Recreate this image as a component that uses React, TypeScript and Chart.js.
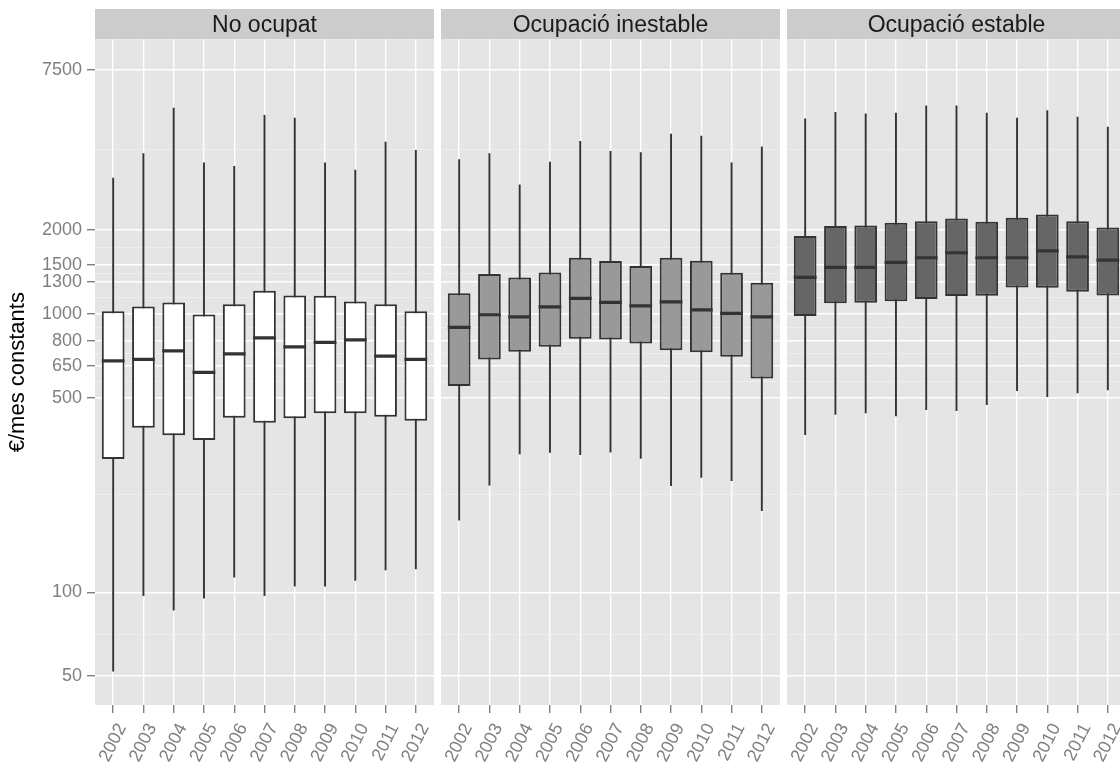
import React, { useEffect, useRef } from 'react';
import { Chart, registerables } from 'chart.js';

Chart.register(...registerables);

// ---------- data ----------
const YEARS = ['2002', '2003', '2004', '2005', '2006', '2007', '2008', '2009', '2010', '2011', '2012'];
const PANEL_TITLES = ['No ocupat', 'Ocupació inestable', 'Ocupació estable'];
const Y_BREAKS = [50, 100, 500, 650, 800, 1000, 1300, 1500, 2000, 7500];
const Y_MIN = 39.4;
const Y_MAX = 9670;
const Y_TITLE = '€/mes constants';

// No ocupat
const NO_OCUPAT_LOW = [52, 97, 86, 95, 113, 97, 105, 105, 110, 120, 121];
const NO_OCUPAT_Q1 = [301, 390, 366, 352, 423, 406, 422, 439, 439, 427, 413];
const NO_OCUPAT_MED = [678, 686, 736, 616, 718, 820, 761, 789, 806, 705, 686];
const NO_OCUPAT_Q3 = [1022, 1062, 1098, 995, 1081, 1209, 1164, 1160, 1108, 1081, 1022];
const NO_OCUPAT_HIGH = [3076, 3767, 5490, 3496, 3390, 5169, 5057, 3496, 3289, 4146, 3869];

// Ocupació inestable
const INESTABLE_LOW = [181, 242, 313, 317, 311, 318, 302, 241, 258, 251, 196];
const INESTABLE_Q1 = [550, 686, 730, 761, 813, 809, 783, 739, 727, 701, 586];
const INESTABLE_MED = [893, 992, 975, 1059, 1136, 1098, 1068, 1104, 1033, 1003, 975];
const INESTABLE_Q3 = [1184, 1388, 1351, 1407, 1589, 1546, 1484, 1589, 1550, 1403, 1292];
const INESTABLE_HIGH = [3584, 3767, 2914, 3514, 4169, 3838, 3798, 4431, 4357, 3496, 3990];

// Ocupació estable
const ESTABLE_LOW = [367, 434, 439, 429, 451, 448, 470, 528, 503, 518, 532];
const ESTABLE_Q1 = [981, 1092, 1095, 1110, 1129, 1158, 1160, 1243, 1240, 1199, 1164];
const ESTABLE_MED = [1351, 1467, 1467, 1529, 1589, 1656, 1589, 1589, 1683, 1602, 1559];
const ESTABLE_Q3 = [1901, 2064, 2073, 2122, 2151, 2199, 2142, 2212, 2274, 2151, 2042];
const ESTABLE_HIGH = [5028, 5300, 5240, 5270, 5600, 5600, 5270, 5057, 5375, 5100, 4694];

const PANEL_DATA = [
  { low: NO_OCUPAT_LOW, q1: NO_OCUPAT_Q1, med: NO_OCUPAT_MED, q3: NO_OCUPAT_Q3, high: NO_OCUPAT_HIGH },
  { low: INESTABLE_LOW, q1: INESTABLE_Q1, med: INESTABLE_MED, q3: INESTABLE_Q3, high: INESTABLE_HIGH },
  { low: ESTABLE_LOW, q1: ESTABLE_Q1, med: ESTABLE_MED, q3: ESTABLE_Q3, high: ESTABLE_HIGH },
];

// ---------- style / layout ----------
const FILLS = ['#FFFFFF', '#999999', '#666666'];
const LINE = '#333333';
const FONT = '"Liberation Sans", Arial, sans-serif';
const PANEL_LEFT = [95, 441, 787];
const PANEL_W = 339;
const STRIP_TOP = 9;
const STRIP_H = 30.3;
const STRIP_FONT = 23;
const STRIP_PAD = 3;
const X_AXIS_H = 57;
const Y_AXIS_W = 95;
const CANVAS_H = 762;
const SIDE_PAD = 8;

// minor gridlines halfway (in log space) between breaks
const Y_MINOR = Y_BREAKS.slice(1).map((b, i) => Math.sqrt(b * Y_BREAKS[i]));
const Y_ALL = [...Y_BREAKS, ...Y_MINOR].sort((a, b) => a - b);
const isMajor = (v: number) => Y_BREAKS.some((b) => Math.abs(b - v) < 1e-6);

const panelBg = {
  id: 'panelBg',
  beforeDraw(chart: any) {
    const { ctx, chartArea: a } = chart;
    ctx.save();
    ctx.fillStyle = '#CCCCCC';
    ctx.fillRect(a.left, STRIP_TOP, a.right - a.left, a.top - STRIP_TOP);
    ctx.fillStyle = '#E5E5E5';
    ctx.fillRect(a.left, a.top, a.right - a.left, a.bottom - a.top);
    ctx.restore();
  },
};

function Panel({ k }: { k: number }) {
  const ref = useRef<HTMLCanvasElement | null>(null);
  const first = k === 0;
  const padLeft = first ? 0 : SIDE_PAD;
  const canvasLeft = first ? 0 : PANEL_LEFT[k] - SIDE_PAD;
  const canvasW = first ? PANEL_LEFT[0] + PANEL_W : PANEL_W + SIDE_PAD;

  useEffect(() => {
    const d = PANEL_DATA[k];
    const boxHalf = (ctx: any) => {
      const s = ctx.chart.scales.x;
      return (Math.abs(s.getPixelForValue(1) - s.getPixelForValue(0)) * 0.75) / 2;
    };
    const chart = new Chart(ref.current as HTMLCanvasElement, {
      type: 'bar',
      data: {
        datasets: [
          {
            type: 'bar',
            label: 'whisker',
            data: YEARS.map((_, i) => ({ x: i, y: [d.low[i], d.high[i]] })),
            backgroundColor: LINE,
            borderWidth: 0,
            grouped: false,
            barPercentage: 0.08,
            categoryPercentage: 1,
            maxBarThickness: 1.9,
            order: 3,
          } as any,
          {
            type: 'bar',
            label: 'box',
            data: YEARS.map((_, i) => ({ x: i, y: [d.q1[i], d.q3[i]] })),
            backgroundColor: FILLS[k],
            borderColor: LINE,
            borderWidth: 2,
            borderSkipped: false,
            grouped: false,
            barPercentage: 0.75,
            categoryPercentage: 1,
            order: 2,
          } as any,
          {
            type: 'line',
            label: 'median',
            data: YEARS.map((_, i) => ({ x: i, y: d.med[i] })),
            showLine: false,
            pointStyle: 'line',
            pointRadius: boxHalf,
            pointHoverRadius: boxHalf,
            pointBorderWidth: 3.2,
            pointBorderColor: LINE,
            pointBackgroundColor: LINE,
            order: 1,
          } as any,
        ],
      },
      options: {
        responsive: false,
        animation: false,
        events: [],
        layout: { padding: { top: STRIP_TOP, left: padLeft, right: 0, bottom: 0 } },
        plugins: {
          legend: { display: false },
          tooltip: { enabled: false },
          title: {
            display: true,
            text: PANEL_TITLES[k],
            fullSize: false,
            color: '#1A1A1A',
            font: {
              family: FONT,
              size: STRIP_FONT,
              weight: 'normal',
              lineHeight: (STRIP_H - STRIP_PAD) / STRIP_FONT,
            },
            padding: { top: STRIP_PAD, bottom: 0 },
          },
        },
        scales: {
          x: {
            type: 'linear',
            min: -0.6,
            max: 10.6,
            offset: false,
            afterBuildTicks: (s: any) => {
              s.ticks = YEARS.map((_, i) => ({ value: i }));
            },
            afterFit: (s: any) => {
              s.height = X_AXIS_H;
              s.paddingLeft = 0;
              s.paddingRight = 0;
            },
            ticks: {
              autoSkip: false,
              minRotation: 63,
              maxRotation: 63,
              color: '#7F7F7F',
              font: { family: FONT, size: 18 },
              padding: 7,
              labelOffset: 9,
              callback: (v: any) => YEARS[v] ?? '',
            },
            grid: {
              color: '#FFFFFF',
              lineWidth: 1.4,
              tickColor: '#7F7F7F',
              tickLength: 8,
              tickWidth: 1.4,
              offset: false,
            },
            border: { display: false },
          } as any,
          y: {
            type: 'logarithmic',
            min: Y_MIN,
            max: Y_MAX,
            afterBuildTicks: (s: any) => {
              s.ticks = Y_ALL.map((v) => ({ value: v }));
            },
            afterFit: (s: any) => {
              s.width = first ? Y_AXIS_W : 0;
              s.paddingTop = 0;
              s.paddingBottom = 0;
            },
            ticks: {
              display: first,
              autoSkip: false,
              color: '#7F7F7F',
              font: { family: FONT, size: 18 },
              padding: 5,
              callback: (v: any) => (isMajor(Number(v)) ? String(Math.round(Number(v))) : ''),
            },
            grid: {
              color: (c: any) => (c.tick && isMajor(c.tick.value) ? '#FFFFFF' : '#F2F2F2'),
              lineWidth: (c: any) => (c.tick && isMajor(c.tick.value) ? 1.4 : 0.7),
              tickColor: (c: any) => (c.tick && isMajor(c.tick.value) ? '#7F7F7F' : 'rgba(0,0,0,0)'),
              tickLength: 8,
              tickWidth: 1.4,
              drawTicks: first,
            },
            border: { display: false },
            title: {
              display: first,
              text: Y_TITLE,
              color: '#000000',
              font: { family: FONT, size: 22 },
              padding: { top: 5, bottom: 0 },
            },
          } as any,
        },
      },
      plugins: [panelBg],
    } as any);
    return () => chart.destroy();
  }, [k]);

  return (
    <canvas
      ref={ref}
      width={canvasW}
      height={CANVAS_H}
      style={{ position: 'absolute', left: canvasLeft, top: 0, width: canvasW, height: CANVAS_H }}
    />
  );
}

export default function App() {
  return (
    <div
      style={{
        position: 'fixed',
        left: 0,
        top: 0,
        width: 1120,
        height: 762,
        overflow: 'hidden',
        background: '#FFFFFF',
      }}
    >
      <Panel k={0} />
      <Panel k={1} />
      <Panel k={2} />
    </div>
  );
}
